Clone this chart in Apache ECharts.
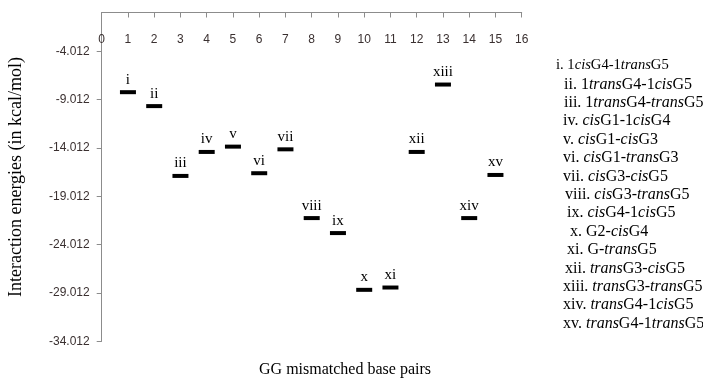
<!DOCTYPE html>
<html><head><meta charset="utf-8">
<script src="https://cdn.jsdelivr.net/npm/echarts@6/dist/echarts.min.js"></script>
<style>html,body{margin:0;padding:0;background:#fff}#c{width:703px;height:379px}</style>
</head><body><div id="c"></div>
<script>
// ---- data ----
var pairIndex = [1,2,3,4,5,6,7,8,9,10,11,12,13,14,15];
var energies = [-8.24,-9.68,-16.90,-14.42,-13.87,-16.62,-14.15,-21.26,-22.81,-28.68,-28.44,-14.42,-7.45,-21.26,-16.80];
var romanLabels = ['i','ii','iii','iv','v','vi','vii','viii','ix','x','xi','xii','xiii','xiv','xv'];
var pairNames = ['1<cis>G4-1<trans>G5','1<trans>G4-1<cis>G5','1<trans>G4-<trans>G5','<cis>G1-1<cis>G4','<cis>G1-<cis>G3',
  '<cis>G1-<trans>G3','<cis>G3-<cis>G5','<cis>G3-<trans>G5','<cis>G4-1<cis>G5','G2-<cis>G4','G-<trans>G5',
  '<trans>G3-<cis>G5','<trans>G3-<trans>G5','<trans>G4-1<cis>G5','<trans>G4-1<trans>G5'];
var yTicks = [-34.012,-29.012,-24.012,-19.012,-14.012,-9.012,-4.012];
var xTicks = [0,1,2,3,4,5,6,7,8,9,10,11,12,13,14,15,16];
var xTitle = 'GG mismatched base pairs';
var yTitle = 'Interaction energies (in kcal/mol)';

// ---- chart ----
var chart = echarts.init(document.getElementById('c'));
var serif = '"Liberation Serif","Times New Roman",serif';
var sans = '"Liberation Sans",Arial,sans-serif';
var legendX = [556,564,564,563,563,563,563,565,567,570,567,565,563,563,563];
var legendSize = [14.6,16,16,16,16,16,16,16,16,16,16,16,16,16,16];
var graphics = pairNames.map(function(n,i){
  var fs = legendSize[i];
  return {
    type:'text', left: legendX[i], top: 58 + i*18.4,
    style:{
      text: romanLabels[i] + '. ' + n.replace(/<(cis|trans)>/g, function(m,w){return '{it|'+w+'}';}),
      font: fs + 'px ' + serif, fill:'#000',
      rich:{ it:{ fontStyle:'italic', fontFamily: serif, fontSize:fs, fill:'#000' } }
    }
  };
});
graphics.push({
  type:'text', x:345, y:370,
  style:{text:xTitle, font:'16px ' + serif, fill:'#000', align:'center', verticalAlign:'middle'}
});
chart.setOption({
  animation:false,
  backgroundColor:'#fff',
  grid:{left:101.7, right:181.3, top:12.5, bottom:37.6, containLabel:false, outerBoundsMode:'none'},
  xAxis:{
    type:'value', position:'top', min:0, max:16, interval:1,
    axisLine:{show:true, onZero:false, lineStyle:{color:'#8c8c8c', width:1}},
    axisTick:{show:true, inside:true, length:5, lineStyle:{color:'#8c8c8c'}},
    axisLabel:{inside:true, margin:21, fontFamily:sans, fontSize:12, color:'#3a3030'},
    splitLine:{show:false}
  },
  yAxis:{
    type:'value', min:-34.012, max:0,
    name:yTitle, nameLocation:'middle', nameGap:76, nameRotate:90,
    nameTextStyle:{fontFamily:serif, fontSize:18, color:'#000'},
    axisLine:{show:true, lineStyle:{color:'#8c8c8c', width:1}},
    axisTick:{show:true, length:5, customValues:yTicks, lineStyle:{color:'#8c8c8c'}},
    axisLabel:{customValues:yTicks, margin:12, fontFamily:sans, fontSize:12, color:'#3a3030',
      formatter:function(v){return v.toFixed(3);}},
    splitLine:{show:false}
  },
  series:[{
    type:'scatter',
    data: pairIndex.map(function(x,i){return [x, energies[i]];}),
    symbol:'rect', symbolSize:[16,4],
    itemStyle:{color:'#000', opacity:1},
    label:{show:true, position:'top', distance:3, fontFamily:serif, fontSize:15, color:'#000',
      formatter:function(p){return romanLabels[p.dataIndex];}}
  }],
  graphic: graphics
});
</script></body></html>
